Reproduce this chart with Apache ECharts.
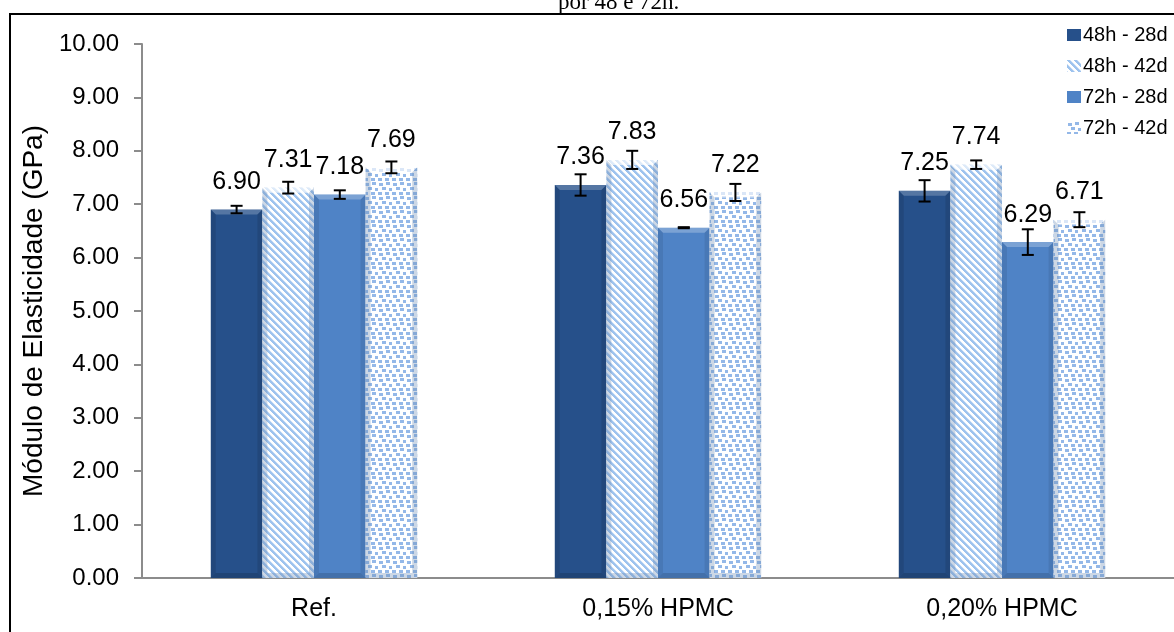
<!DOCTYPE html>
<html>
<head>
<meta charset="utf-8">
<script src="https://cdn.jsdelivr.net/npm/echarts@6/dist/echarts.min.js"></script>
<style>
  html, body { margin: 0; padding: 0; background: #ffffff; }
  #chart { width: 1174px; height: 632px; }
</style>
</head>
<body>
<div id="chart"></div>
<script>
// Elastic modulus by mixture, curing 48h / 72h, ages 28d / 42d
const categories = ['Ref.', '0,15% HPMC', '0,20% HPMC'];
const seriesNames = ['48h - 28d', '48h - 42d', '72h - 28d', '72h - 42d'];

const val48h28d = [6.90, 7.36, 7.25];
const val48h42d = [7.31, 7.83, 7.74];
const val72h28d = [7.18, 6.56, 6.29];
const val72h42d = [7.69, 7.22, 6.71];

// standard deviations (error bars)
const err48h28d = [0.07, 0.20, 0.20];
const err48h42d = [0.11, 0.17, 0.08];
const err72h28d = [0.08, 0.01, 0.24];
const err72h42d = [0.11, 0.16, 0.14];

const yMin = 0, yMax = 10, yStep = 1;

const values = [val48h28d, val48h42d, val72h28d, val72h42d];
const errors = [err48h28d, err48h42d, err72h28d, err72h42d];

const FONT = 'Liberation Sans, Arial, sans-serif';

// fill patterns
function stripePattern(color) {
  const s = 7;
  const c = document.createElement('canvas');
  c.width = s; c.height = s;
  const ctx = c.getContext('2d');
  const img = ctx.createImageData(s, s);
  const rgb = [parseInt(color.substr(1, 2), 16), parseInt(color.substr(3, 2), 16), parseInt(color.substr(5, 2), 16)];
  for (let y = 0; y < s; y++) {
    for (let x = 0; x < s; x++) {
      const d = ((x - y) % s + s) % s;
      const t = d < 3 ? 1 : (d === 3 ? 0.5 : 0);
      const i = (y * s + x) * 4;
      img.data[i] = Math.round(255 + (rgb[0] - 255) * t);
      img.data[i + 1] = Math.round(255 + (rgb[1] - 255) * t);
      img.data[i + 2] = Math.round(255 + (rgb[2] - 255) * t);
      img.data[i + 3] = 255;
    }
  }
  ctx.putImageData(img, 0, 0);
  return c;
}
function dotPattern(color) {
  const s = 14;
  const c = document.createElement('canvas');
  c.width = s; c.height = s;
  const ctx = c.getContext('2d');
  ctx.fillStyle = '#ffffff';
  ctx.fillRect(0, 0, s, s);
  ctx.fillStyle = color;
  [[1, 1], [8, 0], [4, 5], [11, 6], [0, 10], [7, 10]].forEach(function (p) { ctx.fillRect(p[0], p[1], 4, 3); });
  return c;
}

const fills = [
  '#26508a',
  { image: stripePattern('#9ec3ee'), repeat: 'repeat' },
  '#4f83c6',
  { image: dotPattern('#94b8e8'), repeat: 'repeat' }
];
const bevels = [
  { top: 'rgba(255,255,255,0.22)', side: 'rgba(0,0,0,0.10)', bottom: 'rgba(0,0,0,0.15)' },
  { top: 'rgba(255,255,255,0.65)', side: 'rgba(110,140,180,0.35)', bottom: 'rgba(110,140,180,0.35)' },
  { top: 'rgba(255,255,255,0.25)', side: 'rgba(0,0,0,0.08)', bottom: 'rgba(0,0,0,0.14)' },
  { top: 'rgba(255,255,255,0.65)', side: 'rgba(110,140,180,0.35)', bottom: 'rgba(110,140,180,0.35)' }
];

const CAT_GAP = 0.4;           // barCategoryGap
const N = seriesNames.length;

const barSeries = seriesNames.map(function (name, k) {
  return {
    name: name,
    type: 'bar',
    barGap: '0%',
    barCategoryGap: (CAT_GAP * 100) + '%',
    data: values[k],
    itemStyle: { color: fills[k] },
    label: {
      show: true,
      position: 'top',
      distance: 15,
      color: '#000',
      fontFamily: FONT,
      fontSize: 25,
      formatter: function (p) { return p.value.toFixed(2); }
    },
    z: 2
  };
});

// bevel edges and error bars drawn over each bar
const overlaySeries = seriesNames.map(function (name, k) {
  return {
    name: name + ' (desvio)',
    type: 'custom',
    data: values[k].map(function (v, i) { return [i, v, errors[k][i]]; }),
    encode: { x: 0, y: 1 },
    z: 3,
    silent: true,
    renderItem: function (params, api) {
      const cat = api.value(0), v = api.value(1), e = api.value(2);
      const band = api.size([1, 0])[0];
      const bw = band * (1 - CAT_GAP) / N;
      const base = api.coord([cat, 0]);
      const cx = base[0] - band * (1 - CAT_GAP) / 2 + (k + 0.5) * bw;
      const x0 = cx - bw / 2, x1 = cx + bw / 2;
      const yT = api.coord([cat, v])[1];
      const yB = base[1];
      const b = 5;
      const bv = bevels[k];
      const yHi = api.coord([cat, v + e])[1];
      const yLo = api.coord([cat, v - e])[1];
      const cap = 6;
      const ls = { stroke: '#000', lineWidth: 2 };
      return {
        type: 'group',
        children: [
          { type: 'polygon', shape: { points: [[x0, yT], [x1, yT], [x1 - b, yT + b], [x0 + b, yT + b]] }, style: { fill: bv.top } },
          { type: 'polygon', shape: { points: [[x0, yT], [x0 + b, yT + b], [x0 + b, yB - b], [x0, yB]] }, style: { fill: bv.side } },
          { type: 'polygon', shape: { points: [[x1, yT], [x1 - b, yT + b], [x1 - b, yB - b], [x1, yB]] }, style: { fill: bv.side } },
          { type: 'polygon', shape: { points: [[x0, yB], [x0 + b, yB - b], [x1 - b, yB - b], [x1, yB]] }, style: { fill: bv.bottom } },
          { type: 'line', shape: { x1: cx, y1: yHi, x2: cx, y2: yLo }, style: ls },
          { type: 'line', shape: { x1: cx - cap, y1: yHi, x2: cx + cap, y2: yHi }, style: ls },
          { type: 'line', shape: { x1: cx - cap, y1: yLo, x2: cx + cap, y2: yLo }, style: ls }
        ]
      };
    }
  };
});

const chart = echarts.init(document.getElementById('chart'));
chart.setOption({
  animation: false,
  backgroundColor: '#ffffff',
  title: {
    text: 'por 48 e 72h.',
    left: 553,
    top: -14,
    textStyle: { fontFamily: 'Liberation Serif, Times New Roman, serif', fontSize: 23, fontWeight: 'normal', color: '#000' },
    z: 10
  },
  graphic: [{
    type: 'rect',
    shape: { x: 10, y: 14, width: 1400, height: 900 },
    style: { fill: 'none', stroke: '#000', lineWidth: 2 },
    z: 1,
    silent: true
  }],
  legend: {
    data: seriesNames,
    orient: 'vertical',
    left: 1062,
    top: 20,
    icon: 'rect',
    itemWidth: 14,
    itemHeight: 12,
    itemGap: 11,
    textStyle: { fontFamily: FONT, fontSize: 20, color: '#000', padding: [0, 0, 0, -3] }
  },
  grid: { left: 142, top: 44, bottom: 54, width: 1044, containLabel: false },
  xAxis: {
    type: 'category',
    data: categories,
    axisLine: { lineStyle: { color: '#8c8c8c', width: 2 } },
    axisTick: { show: false },
    axisLabel: { color: '#000', fontFamily: FONT, fontSize: 25, margin: 19 }
  },
  yAxis: {
    type: 'value',
    min: yMin,
    max: yMax,
    interval: yStep,
    name: 'Módulo de Elasticidade (GPa)',
    nameLocation: 'middle',
    nameRotate: 90,
    nameGap: 93,
    nameTextStyle: { color: '#000', fontFamily: FONT, fontSize: 28 },
    axisLine: { show: true, lineStyle: { color: '#8c8c8c', width: 2 } },
    axisTick: { show: true, length: 8, lineStyle: { color: '#8c8c8c', width: 2 } },
    splitLine: { show: false },
    axisLabel: {
      color: '#000', fontFamily: FONT, fontSize: 24, margin: 23,
      formatter: function (v) { return v.toFixed(2); }
    }
  },
  series: barSeries.concat(overlaySeries)
});
</script>
</body>
</html>
